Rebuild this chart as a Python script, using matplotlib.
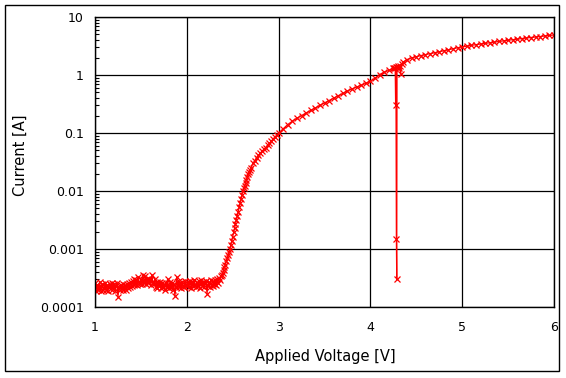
import numpy as np
import matplotlib
matplotlib.use("Agg")
import matplotlib.pyplot as plt
from matplotlib.ticker import FixedLocator, LogLocator, NullFormatter

# ---- data ----
# Low-current (leakage) region: sweep 1.00 V .. 2.40 V in 0.01 V steps, current in units of 1e-4 A
low_current_1e4 = [
    2.6, 1.9, 2.4, 2.0, 2.2, 2.7, 1.9, 2.3, 2.5, 2.0,
    2.1, 2.6, 2.0, 2.4, 1.9, 2.2, 2.5, 2.3, 2.0, 2.6,
    2.2, 2.5, 1.9, 2.3, 2.6, 1.5, 2.2, 2.0, 2.4, 2.1,
    2.5, 2.0, 2.2, 2.4, 2.0, 2.5, 2.1, 2.6, 2.2, 2.7,
    2.3, 2.8, 2.4, 3.0, 2.5, 2.9, 2.4, 3.3, 2.6, 2.5,
    3.0, 2.5, 3.5, 2.6, 2.9, 3.4, 2.5, 3.0, 2.6, 3.1,
    2.9, 2.4, 3.6, 2.6, 2.5, 3.0, 2.2, 2.7, 2.1, 2.6,
    2.3, 2.7, 2.1, 2.6, 2.2, 2.5, 2.0, 2.6, 2.2, 3.0,
    2.3, 2.1, 2.7, 2.2, 2.6, 2.0, 2.5, 1.55, 2.2, 3.3,
    2.3, 2.8, 2.2, 2.6, 2.1, 2.7, 2.3, 2.2, 2.8, 2.4,
    2.3, 2.7, 2.2, 2.6, 2.8, 2.1, 2.7, 2.3, 2.9, 2.4,
    2.2, 2.7, 2.3, 2.8, 2.1, 2.6, 2.9, 2.3, 2.7, 2.2,
    2.6, 2.8, 1.7, 2.3, 2.7, 2.2, 2.9, 2.4, 2.3, 2.8,
    2.5, 2.9, 2.4, 3.0, 2.6, 3.2, 2.9, 3.4, 3.5, 3.9,
    4.3,
]
low_voltage_start = 1.00
low_voltage_stop = 2.40

# Turn-on region and above (V, A)
high_voltage = [
    2.41, 2.42, 2.43, 2.44, 2.45, 2.46, 2.47, 2.48, 2.49, 2.50,
    2.51, 2.52, 2.53, 2.54, 2.55, 2.56, 2.57, 2.58, 2.59, 2.60,
    2.61, 2.62, 2.63, 2.64, 2.65, 2.66, 2.67, 2.68, 2.69, 2.70,
    2.72, 2.74, 2.76, 2.78, 2.80, 2.82, 2.84, 2.86, 2.88, 2.90,
    2.92, 2.94, 2.96, 2.98, 3.00,
    3.05, 3.10, 3.15, 3.20, 3.25, 3.30, 3.35, 3.40, 3.45, 3.50,
    3.55, 3.60, 3.65, 3.70, 3.75, 3.80, 3.85, 3.90, 3.95, 4.00,
    4.05, 4.10, 4.15, 4.20, 4.25, 4.26, 4.27, 4.275, 4.278, 4.283,
    4.287, 4.29, 4.30, 4.31, 4.32, 4.33, 4.34, 4.36, 4.40, 4.45,
    4.50, 4.55, 4.60, 4.65, 4.70, 4.75, 4.80, 4.85, 4.90, 4.95,
    5.00, 5.05, 5.10, 5.15, 5.20, 5.25, 5.30, 5.35, 5.40, 5.45,
    5.50, 5.55, 5.60, 5.65, 5.70, 5.75, 5.80, 5.85, 5.90, 5.95,
    6.00,
]
high_current = [
    4.8e-4, 5.4e-4, 6.1e-4, 6.9e-4, 7.8e-4, 8.8e-4, 1.0e-3, 1.18e-3, 1.39e-3, 1.64e-3,
    1.93e-3, 2.28e-3, 2.68e-3, 3.16e-3, 3.73e-3, 4.4e-3, 5.2e-3, 6.1e-3, 7.2e-3, 8.5e-3,
    1.0e-2, 1.12e-2, 1.24e-2, 1.38e-2, 1.55e-2, 1.76e-2, 1.93e-2, 2.1e-2, 2.3e-2, 2.5e-2,
    3.0e-2, 3.35e-2, 3.7e-2, 4.1e-2, 4.5e-2, 4.85e-2, 5.2e-2, 5.6e-2, 6.1e-2, 6.6e-2,
    7.2e-2, 7.9e-2, 8.5e-2, 9.2e-2, 0.100,
    0.118, 0.140, 0.160, 0.180, 0.200, 0.222, 0.245, 0.270, 0.300, 0.330,
    0.362, 0.400, 0.440, 0.480, 0.530, 0.575, 0.620, 0.665, 0.720, 0.780,
    0.880, 1.02, 1.12, 1.20, 1.30, 1.34, 1.30, 0.30, 1.36, 1.5e-3,
    3.0e-4, 1.38, 1.42, 1.30, 1.45, 1.05, 1.55, 1.68, 1.85, 1.98,
    2.07, 2.16, 2.25, 2.33, 2.42, 2.52, 2.62, 2.73, 2.85, 2.95,
    3.05, 3.15, 3.25, 3.33, 3.42, 3.51, 3.60, 3.70, 3.80, 3.89,
    3.98, 4.06, 4.15, 4.25, 4.35, 4.43, 4.52, 4.61, 4.70, 4.80,
    4.90,
]

x_ticks = [1, 2, 3, 4, 5, 6]
x_tick_labels = ["1", "2", "3", "4", "5", "6"]
y_ticks = [1e-4, 1e-3, 1e-2, 1e-1, 1, 10]
y_tick_labels = ["0.0001", "0.001", "0.01", "0.1", "1", "10"]

# ---- assemble series ----
low_voltage = np.linspace(low_voltage_start, low_voltage_stop, len(low_current_1e4))
voltage = np.concatenate([low_voltage, np.array(high_voltage)])
current = np.concatenate([np.array(low_current_1e4) * 1e-4, np.array(high_current)])

W, H = 566, 378
fig = plt.figure(figsize=(W / 100, H / 100), dpi=100)
ax = fig.add_axes([95 / W, 1 - 307 / H, 459 / W, 290 / H])

ax.plot(voltage, current, color="#FF0000", linewidth=0.9,
        marker="x", markersize=3.8, markeredgewidth=0.9)

ax.set_yscale("log")
ax.set_xlim(1, 6)
ax.set_ylim(1e-4, 10)

ax.xaxis.set_major_locator(FixedLocator(x_ticks))
ax.set_xticklabels(x_tick_labels)
ax.yaxis.set_major_locator(FixedLocator(y_ticks))
ax.set_yticklabels(y_tick_labels)
ax.yaxis.set_minor_locator(LogLocator(base=10, subs=np.arange(2, 10)))
ax.yaxis.set_minor_formatter(NullFormatter())

ax.tick_params(axis="x", which="major", length=0, pad=10, labelsize=9)
ax.tick_params(axis="y", which="major", length=0, pad=8, labelsize=9)
ax.tick_params(axis="y", which="minor", direction="in", length=3, width=0.8)

ax.grid(True, which="major", color="black", linewidth=0.9)
for s in ax.spines.values():
    s.set_color("black")
    s.set_linewidth(1.0)

fig.text(325 / W, 1 - 357 / H, "Applied Voltage [V]", ha="center", va="center", fontsize=10.5)
fig.text(20 / W, 1 - 155 / H, "Current [A]", ha="center", va="center", rotation=90, fontsize=10.5)

fig.add_artist(plt.Rectangle((5 / W, 1 - 371 / H), 554 / W, 366 / H, fill=False,
                             edgecolor="black", linewidth=1.0, transform=fig.transFigure))

fig.savefig("out.png", dpi=100)
